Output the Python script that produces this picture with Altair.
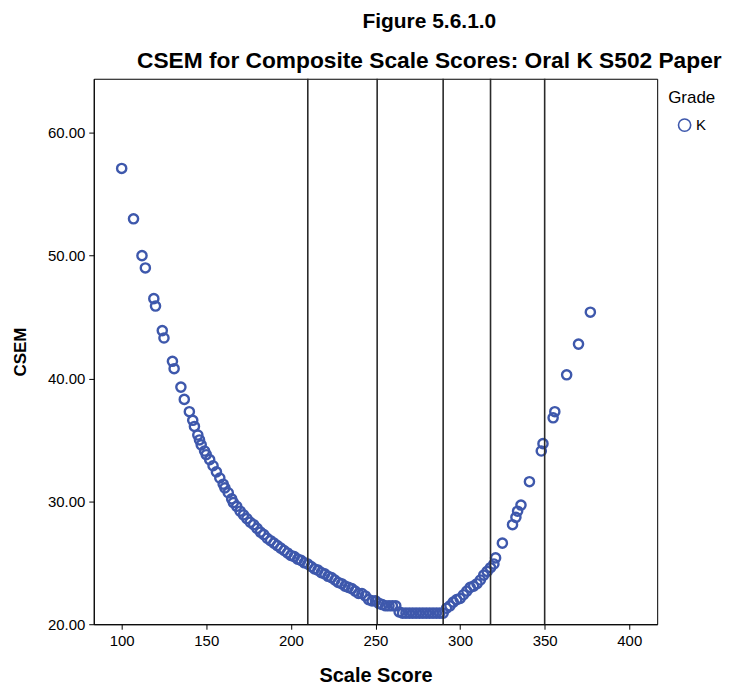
import altair as alt
import pandas as pd

# Scale scores and CSEM values
scale_scores = [100, 107, 112, 114, 119, 120, 124, 125, 130, 131, 135, 137,
                140, 142, 143, 145, 146, 147, 149, 150, 152, 154, 156, 158,
                160, 161, 163, 165, 166, 168, 170, 172, 174, 176, 178, 180,
                182, 184, 186, 188, 190, 192, 194, 196, 198, 200, 202, 204,
                206, 208, 210, 212, 214, 216, 218, 220, 222, 224, 226, 228,
                230, 232, 234, 236, 238, 240, 242, 244, 246, 248, 250, 252,
                254, 256, 258, 260, 262, 264, 266, 268, 270, 272, 274, 276,
                278, 280, 282, 284, 286, 288, 290, 292, 294, 296, 298, 300,
                302, 304, 306, 308, 310, 312, 314, 316, 318, 320, 321, 325,
                331, 333, 334, 336, 341, 348, 349, 355, 356, 363, 370, 377]
csem_values = [57.1, 53.0, 50.0, 49.0, 46.5, 45.9, 43.9, 43.3, 41.4, 40.8, 39.3, 38.3,
               37.3, 36.6, 36.1, 35.4, 35.0, 34.6, 34.1, 33.8, 33.4, 32.9, 32.4, 31.9,
               31.4, 31.1, 30.7, 30.2, 29.9, 29.6, 29.2, 28.9, 28.6, 28.3, 28.1, 27.8,
               27.5, 27.3, 27.0, 26.8, 26.6, 26.4, 26.2, 26.0, 25.8, 25.6, 25.5, 25.3,
               25.2, 25.0, 24.9, 24.7, 24.5, 24.4, 24.2, 24.1, 23.9, 23.8, 23.6, 23.4,
               23.3, 23.1, 23.0, 22.9, 22.7, 22.5, 22.5, 22.3, 22.0, 21.9, 21.9, 21.7,
               21.6, 21.5, 21.5, 21.5, 21.5, 21.0, 20.9, 20.9, 20.9, 20.9, 20.9, 20.9,
               20.9, 20.9, 20.9, 20.9, 20.9, 20.9, 20.9, 21.3, 21.5, 21.8, 22.0, 22.1,
               22.4, 22.7, 23.0, 23.1, 23.3, 23.6, 24.0, 24.3, 24.6, 24.9, 25.4, 26.6,
               28.1, 28.7, 29.2, 29.7, 31.6, 34.1, 34.7, 36.8, 37.3, 40.3, 42.8, 45.4]
grade = "K"

cut_scores = [210, 251, 290, 318, 350]

x_ticks = [100, 150, 200, 250, 300, 350, 400]
y_ticks = [20, 30, 40, 50, 60]

FONT = "Liberation Sans"
BLUE = "#3E58AC"

df = pd.DataFrame({"Scale Score": scale_scores, "CSEM": csem_values,
                   "Grade": [grade] * len(scale_scores)})
cuts = pd.DataFrame({"cut": cut_scores})

x_scale = alt.Scale(domain=[83.5, 416.5], nice=False, zero=False)
y_scale = alt.Scale(domain=[20, 64.4], nice=False, zero=False)

points = alt.Chart(df).mark_point(
    shape="circle", filled=False, size=85, strokeWidth=2.4, opacity=1
).encode(
    x=alt.X("Scale Score:Q", scale=x_scale,
            axis=alt.Axis(values=x_ticks, format="d", title="Scale Score")),
    y=alt.Y("CSEM:Q", scale=y_scale,
            axis=alt.Axis(values=y_ticks, format=".2f", title="CSEM")),
    color=alt.Color("Grade:N", scale=alt.Scale(range=[BLUE]),
                    legend=alt.Legend(title="Grade", orient="none",
                                      legendX=576, legendY=11)),
)

rules = alt.Chart(cuts).mark_rule(color="#2a2a2a", strokeWidth=1.6).encode(
    x=alt.X("cut:Q", scale=x_scale)
)

chart = alt.layer(points, rules).properties(
    width=565,
    height=547,
    padding={"left": 3, "top": 2, "right": 0, "bottom": 0},
    title=alt.TitleParams(
        text="Figure 5.6.1.0",
        subtitle="CSEM for Composite Scale Scores: Oral K S502 Paper",
        font=FONT, fontSize=21, fontWeight="bold", color="black",
        subtitleFont=FONT, subtitleFontSize=22.8, subtitleFontWeight="bold",
        subtitleColor="black", subtitlePadding=18,
        anchor="middle", dx=54, offset=5,
    ),
).configure_view(
    stroke="black", strokeWidth=1
).configure_axis(
    grid=False,
    domainColor="black", tickColor="black",
    labelFont=FONT, labelFontSize=15, labelColor="black",
    titleFont=FONT, titleFontWeight="bold", titleColor="black",
    tickSize=5,
).configure_axisX(
    titleFontSize=20, labelPadding=4, titlePadding=17, labelFlush=False,
).configure_axisY(
    titleFontSize=17, labelPadding=4, titlePadding=18,
).configure_legend(
    titleFont=FONT, titleFontSize=17, titleFontWeight="normal", titleColor="black",
    labelFont=FONT, labelFontSize=15, labelColor="black",
    symbolSize=150, symbolStrokeWidth=1.6, symbolFillColor="transparent",
    padding=0, symbolOffset=9, titlePadding=11,
)

chart.save("out.html", embed_options={"renderer": "svg", "actions": False})
